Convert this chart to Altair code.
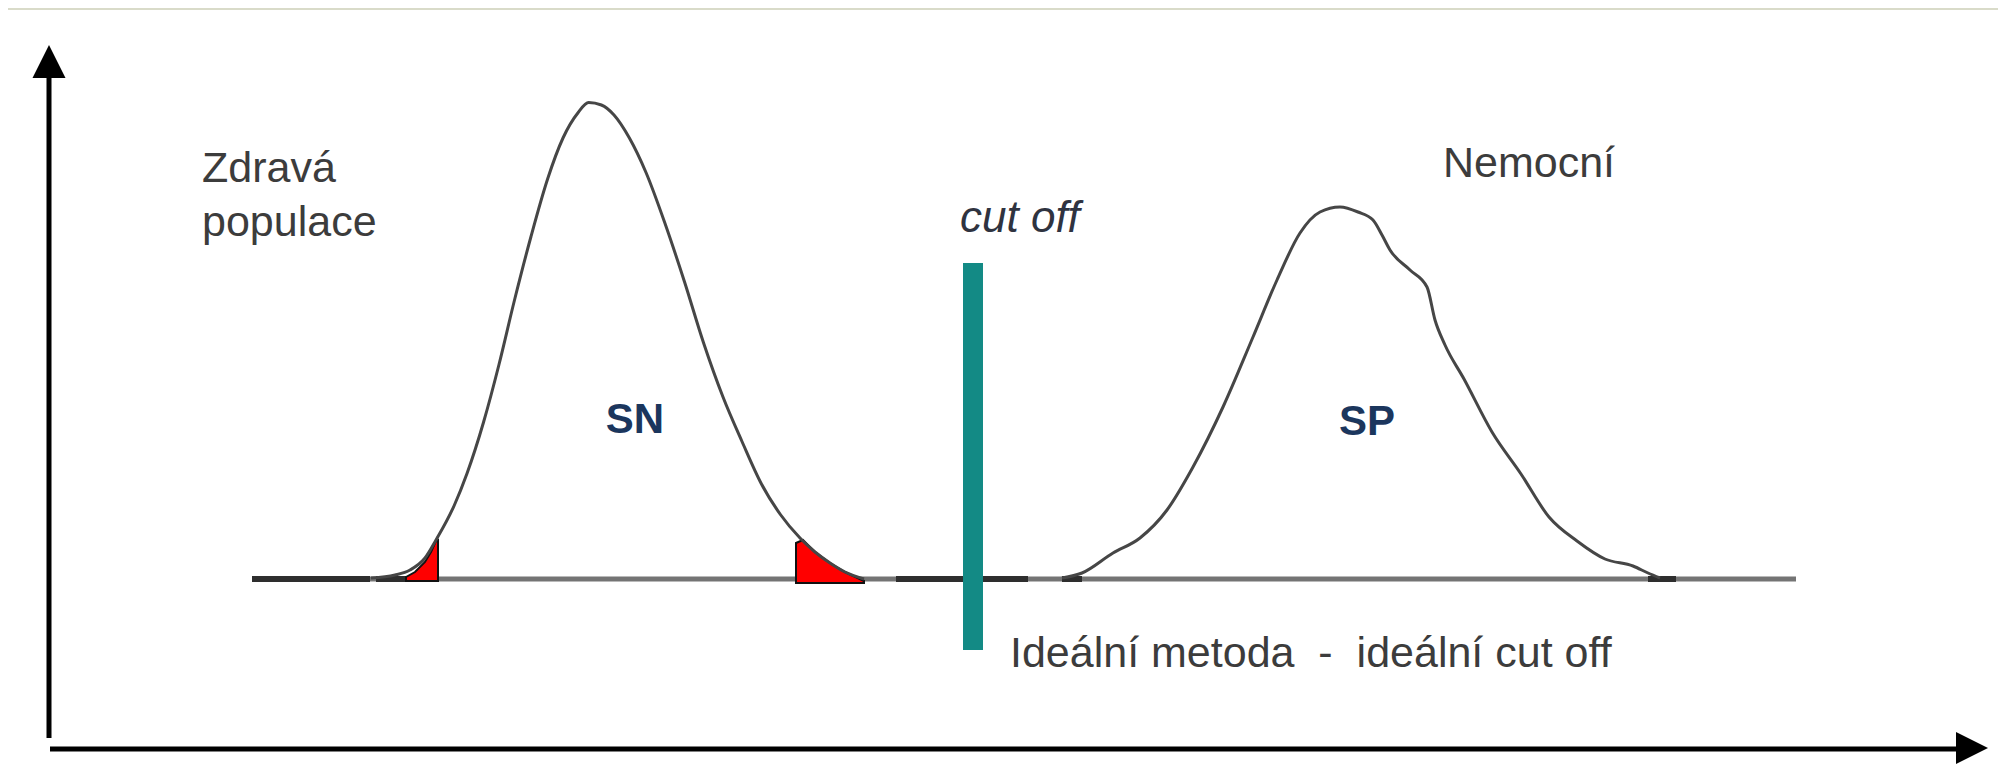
import altair as alt
import pandas as pd

# ---- data (x: test value units 0..99.5, y: frequency units; 0 = curve baseline) ----
sn_x = [18.15, 19.35, 20.1, 20.85, 21.4, 22.31, 22.95, 23.78, 24.55, 25.32, 26.15, 26.98, 27.75,
        28.51, 29.03, 29.67, 30.3, 31.07, 31.9, 32.86, 33.82, 34.78, 35.74, 36.7, 37.66, 38.62,
        39.6, 40.35, 41.1, 41.85, 42.8]
sn_y = [0.2, 0.8, 1.8, 4.2, 7.8, 14.7, 21.1, 31.4, 42.9, 55.7, 68.5, 80.0, 88.2,
        93.3, 95.3, 94.8, 92.8, 88.2, 81.3, 71.0, 59.5, 47.2, 36.5, 27.5, 19.1, 12.9,
        8.2, 5.4, 3.2, 1.4, 0.0]

sp_x = [52.7, 53.7, 55.25, 56.6, 57.95, 59.25, 60.75, 62.25, 63.45, 64.6, 65.6, 66.6, 67.5, 68.25,
        68.7, 69.1, 70.1, 70.95, 71.35, 71.85, 72.8, 74.2, 75.65, 77.05, 78.45, 79.85, 81.25,
        82.0, 82.6]
sp_y = [0.2, 1.2, 5.2, 8.2, 13.8, 22.4, 34.4, 48.4, 59.8, 69.2, 73.4, 74.4, 73.4, 71.8,
        68.8, 65.8, 61.8, 58.4, 51.8, 46.8, 40.0, 29.4, 21.0, 12.4, 7.6, 4.0, 2.6,
        1.2, 0.2]

red_left_x = [19.9, 20.35, 20.85, 21.15, 21.4, 21.5]
red_left_y = [0.4, 1.4, 3.4, 5.4, 7.6, 7.8]
red_right_x = [39.4, 39.75, 40.35, 41.1, 41.85, 42.8]
red_right_y = [7.2, 7.8, 5.4, 3.2, 1.4, -0.4]

baseline_gray = [18.1, 89.4]
baseline_dark = [(12.2, 18.1), (18.4, 20.0), (44.4, 51.0), (52.7, 53.7), (82.0, 83.4)]

cutoff_x = 48.25
cutoff_y = [63.2, -14.2]

labels = ["SN", "SP"]
labels_x = [31.35, 67.95]
labels_y = [31.8, 31.4]

notes = ["Zdravá", "populace", "Nemocní"]
notes_x = [9.7, 9.7, 71.75]
notes_y = [79.4, 68.6, 80.4]

ideal_text = "Ideální metoda \u00a0-\u00a0 ideální cut off"

XD = [0, 99.5]
YD = [-37.4, 114.2]


def X(field="x", **kw):
    return alt.X(field, type="quantitative", scale=alt.Scale(domain=XD, nice=False, zero=False), axis=None, **kw)


def Y(field="y", **kw):
    return alt.Y(field, type="quantitative", scale=alt.Scale(domain=YD, nice=False, zero=False), axis=None, **kw)


# top strip of the slide background
strip = alt.Chart(pd.DataFrame({"x": [0], "x2": [99.5], "y": [114.2], "y2": [113.8]})).mark_rect(
    color="#d9dbc9").encode(x=X(), x2="x2", y=Y(), y2="y2")

base_g = alt.Chart(pd.DataFrame({"x": [baseline_gray[0]], "x2": [baseline_gray[1]], "y": [0]})).mark_rule(
    color="#747474", strokeWidth=5).encode(x=X(), x2="x2", y=Y())

bd = pd.DataFrame({"x": [a for a, b in baseline_dark], "x2": [b for a, b in baseline_dark], "y": [0] * len(baseline_dark)})
base_d = alt.Chart(bd).mark_rule(color="#2e2e2e", strokeWidth=6).encode(x=X(), x2="x2", y=Y())

red_l = alt.Chart(pd.DataFrame({"x": red_left_x, "y": red_left_y, "y0": [-0.4] * len(red_left_x)})).mark_area(
    color="#ff0000", stroke="#111111", strokeWidth=2).encode(x=X(), y=Y(), y2="y0")
red_r = alt.Chart(pd.DataFrame({"x": red_right_x, "y": red_right_y, "y0": [-0.8] * len(red_right_x)})).mark_area(
    color="#ff0000", stroke="#111111", strokeWidth=2).encode(x=X(), y=Y(), y2="y0")

sn = alt.Chart(pd.DataFrame({"x": sn_x, "y": sn_y})).mark_line(
    color="#464646", strokeWidth=3, interpolate="monotone").encode(x=X(), y=Y())
sp = alt.Chart(pd.DataFrame({"x": sp_x, "y": sp_y})).mark_line(
    color="#464646", strokeWidth=3, interpolate="monotone").encode(x=X(), y=Y())

cut = alt.Chart(pd.DataFrame({"x": [cutoff_x], "y": [cutoff_y[0]], "y2": [cutoff_y[1]]})).mark_rule(
    color="#138a85", strokeWidth=20, strokeCap="butt").encode(x=X(), y=Y(), y2="y2")

lab = alt.Chart(pd.DataFrame({"x": labels_x, "y": labels_y, "t": labels})).mark_text(
    font="Liberation Sans", fontSize=42, fontWeight="bold", color="#1b365d", align="center",
    baseline="middle").encode(x=X(), y=Y(), text="t:N")

note = alt.Chart(pd.DataFrame({"x": notes_x, "y": notes_y, "t": notes})).mark_text(
    font="Liberation Sans", fontSize=43, color="#3c3c3c", align="left",
    baseline="alphabetic").encode(x=X(), y=Y(), text="t:N")

cut_lab = alt.Chart(pd.DataFrame({"x": [47.6], "y": [69.4], "t": ["cut off"]})).mark_text(
    font="Liberation Sans", fontSize=44, fontStyle="italic", color="#2f3340", align="left",
    baseline="alphabetic").encode(x=X(), y=Y(), text="t:N")

ideal = alt.Chart(pd.DataFrame({"x": [50.1], "y": [-17.6], "t": [ideal_text]})).mark_text(
    font="Liberation Sans", fontSize=43, color="#3c3c3c", align="left",
    baseline="alphabetic").encode(x=X(), y=Y(), text="t:N")

# axes with arrows
yaxis = alt.Chart(pd.DataFrame({"x": [2.05], "y": [100.2], "y2": [-31.8]})).mark_rule(
    color="black", strokeWidth=5).encode(x=X(), y=Y(), y2="y2")
xaxis = alt.Chart(pd.DataFrame({"x": [2.1], "x2": [97.6], "y": [-34.0]})).mark_rule(
    color="black", strokeWidth=5).encode(x=X(), x2="x2", y=Y())
up = alt.Chart(pd.DataFrame({"x": [2.05], "y": [103.5]})).mark_point(
    shape="M0,-1L1,1L-1,1Z", size=1089, filled=True, color="black", opacity=1).encode(x=X(), y=Y())
right = alt.Chart(pd.DataFrame({"x": [98.2], "y": [-33.8]})).mark_point(
    shape="M1,0L-1,-1L-1,1Z", size=1024, filled=True, color="black", opacity=1).encode(x=X(), y=Y())

chart = alt.layer(strip, base_g, base_d, red_l, red_r, sn, sp, cut, lab, note, cut_lab, ideal,
                  yaxis, xaxis, up, right).properties(
    width=1990, height=758, padding=0, autosize=alt.AutoSizeParams(type="none"), background="white"
).configure_view(stroke=None)

chart.save("out.html", embed_options={"renderer": "svg", "actions": False})
